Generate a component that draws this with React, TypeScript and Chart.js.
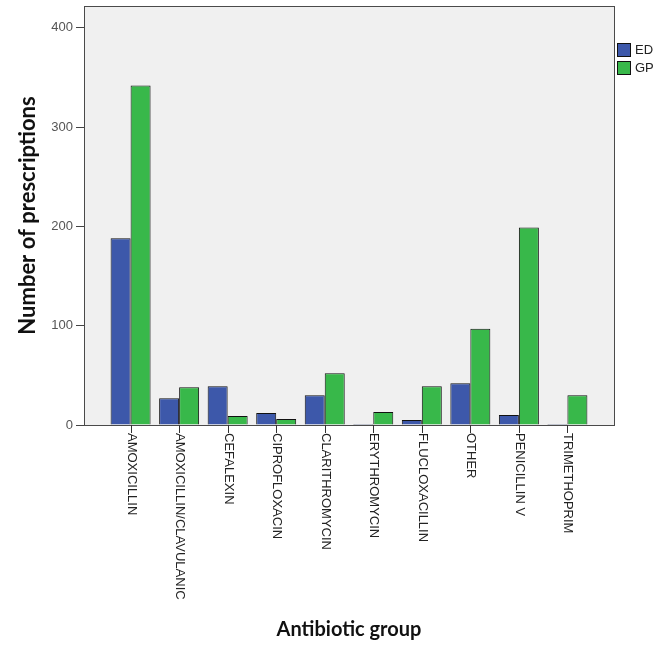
import React, { useEffect, useRef } from 'react';
import { Chart, registerables } from 'chart.js';

Chart.register(...registerables);

const categories = [
  'AMOXICILLIN',
  'AMOXICILLIN/CLAVULANIC',
  'CEFALEXIN',
  'CIPROFLOXACIN',
  'CLARITHROMYCIN',
  'ERYTHROMYCIN',
  'FLUCLOXACILLIN',
  'OTHER',
  'PENICILLIN V',
  'TRIMETHOPRIM',
];
const edValues = [188, 27, 39, 12, 30, 1, 5, 42, 10, 1];
const gpValues = [342, 38, 9, 6, 52, 13, 39, 97, 199, 30];
const yTicks = [0, 100, 200, 300, 400];
const seriesNames = ['ED', 'GP'];
const seriesColors = ['#3d58aa', '#38b84a'];
const yTitle = 'Number of prescriptions';
const xTitle = 'Antibiotic group';

const LABEL_FONT = '13px "Liberation Sans", Arial, sans-serif';
const TITLE_FONT = 'bold 20px Lato, "Open Sans", sans-serif';

const decorPlugin = {
  id: 'decor',
  beforeDraw(chart: any) {
    const { ctx, chartArea } = chart;
    ctx.save();
    ctx.fillStyle = '#f0f0f0';
    ctx.fillRect(chartArea.left, chartArea.top, chartArea.right - chartArea.left, chartArea.bottom - chartArea.top);
    ctx.restore();
  },
  afterDraw(chart: any) {
    const { ctx, chartArea } = chart;
    const xs = chart.scales.x;
    ctx.save();
    // frame
    ctx.strokeStyle = '#4a4a4a';
    ctx.lineWidth = 1;
    ctx.strokeRect(
      Math.round(chartArea.left) + 0.5,
      Math.round(chartArea.top) + 0.5,
      Math.round(chartArea.right - chartArea.left),
      Math.round(chartArea.bottom - chartArea.top)
    );
    // x tick marks and labels
    const base = Math.round(chartArea.bottom);
    ctx.strokeStyle = '#333';
    ctx.fillStyle = '#222';
    ctx.font = LABEL_FONT;
    categories.forEach((label, i) => {
      const px = Math.round(xs.getPixelForValue(i)) + 0.5;
      ctx.beginPath();
      ctx.moveTo(px, base);
      ctx.lineTo(px, base + 8);
      ctx.stroke();
      ctx.save();
      ctx.translate(px, base + 8);
      ctx.rotate(Math.PI / 2);
      ctx.textAlign = 'left';
      ctx.textBaseline = 'middle';
      ctx.fillText(label, 0, 0);
      ctx.restore();
    });
    // x title
    ctx.font = TITLE_FONT;
    ctx.fillStyle = '#111';
    ctx.textAlign = 'center';
    ctx.textBaseline = 'middle';
    ctx.fillText(xTitle, (chartArea.left + chartArea.right) / 2, 630);
    // legend
    const lx = Math.round(chartArea.right) + 3;
    seriesNames.forEach((name, i) => {
      const ly = 43 + i * 18;
      ctx.fillStyle = seriesColors[i];
      ctx.fillRect(lx, ly, 14, 14);
      ctx.strokeStyle = '#111';
      ctx.strokeRect(lx + 0.5, ly + 0.5, 13, 13);
      ctx.fillStyle = '#222';
      ctx.font = LABEL_FONT;
      ctx.textAlign = 'left';
      ctx.textBaseline = 'middle';
      ctx.fillText(name, lx + 18, ly + 7.5);
    });
    ctx.restore();
  },
};

export default function App() {
  const canvasRef = useRef<HTMLCanvasElement | null>(null);

  useEffect(() => {
    if (!canvasRef.current) return;
    const chart = new Chart(canvasRef.current, {
      type: 'bar',
      data: {
        datasets: [
          {
            label: seriesNames[0],
            data: edValues.map((v, i) => ({ x: i, y: v })),
            backgroundColor: seriesColors[0],
            borderColor: '#111',
            borderWidth: 1,
          },
          {
            label: seriesNames[1],
            data: gpValues.map((v, i) => ({ x: i, y: v })),
            backgroundColor: seriesColors[1],
            borderColor: '#111',
            borderWidth: 1,
          },
        ],
      },
      options: {
        animation: false,
        responsive: true,
        maintainAspectRatio: false,
        layout: { padding: { left: 0, right: 55, top: 6, bottom: 233 } },
        datasets: { bar: { categoryPercentage: 0.824, barPercentage: 1, borderSkipped: 'start' } },
        plugins: { legend: { display: false }, tooltip: { enabled: false } },
        scales: {
          x: {
            type: 'linear',
            min: -0.96,
            max: 9.96,
            offset: false,
            display: false,
            afterBuildTicks: (axis: any) => {
              axis.ticks = categories.map((_, i) => ({ value: i }));
            },
          },
          y: {
            type: 'linear',
            min: 0,
            max: 422,
            afterFit: (s: any) => {
              s.width = 84;
              s.paddingTop = 0;
              s.paddingBottom = 0;
            },
            afterBuildTicks: (axis: any) => {
              axis.ticks = yTicks.map((v) => ({ value: v }));
            },
            border: { display: true, color: '#4a4a4a' },
            grid: { drawOnChartArea: false, drawTicks: true, tickLength: 8, color: '#444' },
            ticks: {
              padding: 3,
              color: '#555',
              font: { family: '"Liberation Sans", Arial, sans-serif', size: 13 },
            },
            title: {
              display: true,
              text: yTitle,
              color: '#111',
              font: { family: 'Lato, "Open Sans", sans-serif', size: 22, weight: 'bold' },
              padding: { top: 15, bottom: 0 },
            },
          },
        },
      },
      plugins: [decorPlugin],
    });
    return () => chart.destroy();
  }, []);

  return (
    <div style={{ position: 'absolute', left: 0, top: 0, width: 669, height: 658, background: '#fff' }}>
      <canvas ref={canvasRef} />
    </div>
  );
}
